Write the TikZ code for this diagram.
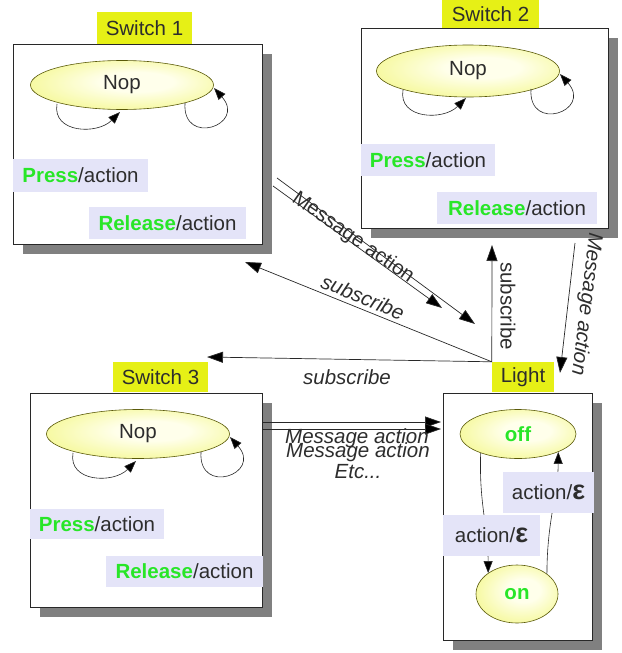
\documentclass[tikz,border=0pt]{standalone}
\usepackage{fontspec}
\setmainfont{Liberation Sans}
\usetikzlibrary{arrows.meta,shapes.geometric,shadows}

\definecolor{labelyel}{RGB}{230,240,22}
\definecolor{lav}{RGB}{228,228,248}
\definecolor{grn}{RGB}{40,230,40}
\definecolor{txt}{RGB}{45,45,45}
\definecolor{shd}{RGB}{128,128,128}
\definecolor{brd}{RGB}{40,40,40}
\definecolor{ebrd}{RGB}{90,90,10}
\definecolor{ylight}{RGB}{255,255,235}
\definecolor{ymid}{RGB}{246,249,160}
\definecolor{ydark}{RGB}{218,230,0}

\pgfdeclareradialshading{nopshade}{\pgfpoint{5bp}{4bp}}{color(0bp)=(ylight); color(10bp)=(ylight); color(28bp)=(ymid); color(47bp)=(ydark); color(50bp)=(ydark)}

\begin{document}
\begin{tikzpicture}[x=1pt,y=-1pt,
  font=\fontsize{20.5}{24}\selectfont,
  swbox/.style={draw=brd, line width=0.8pt, fill=white,
    drop shadow={shadow xshift=10pt, shadow yshift=-10pt, fill=shd, opacity=1}, inner sep=0},
  title/.style={fill=labelyel, text=txt, inner sep=0, minimum height=32},
  lbl/.style={fill=lav, text=txt, inner sep=0, minimum height=32},
  nop/.style={ellipse, draw=ebrd, line width=0.6pt, shading=nopshade, inner sep=0, text=txt},
  conn/.style={draw=brd, line width=0.7pt, -{Triangle[length=16pt,width=11pt,fill=black]}},
  lp/.style={draw=brd, line width=0.6pt, -{Triangle[length=12pt,width=9pt,fill=black]}},
  msg/.style={text=txt, inner sep=0},
  msgi/.style={text=txt, inner sep=0, font=\fontsize{20.5}{24}\selectfont\itshape}
]
\useasboundingbox (0,0) rectangle (621,653);

% boxes
\node[swbox, minimum width=249, minimum height=200] (b1) at (137.5,144) {};
\node[swbox, minimum width=247, minimum height=200] (b2) at (484.5,128) {};
\node[swbox, minimum width=232, minimum height=214] (b3) at (146,500) {};
\node[swbox, minimum width=149, minimum height=247] (bl) at (517.5,516.5) {};

% titles
\node[title, minimum width=95] (t1) at (144.5,28) {Switch 1};
\node[title, minimum width=97, minimum height=28] (t2) at (490.5,14) {Switch 2};
\node[title, minimum width=95, minimum height=30] (t3) at (160.5,377) {Switch 3};
\node[title, minimum width=62, minimum height=30] (tl) at (523,377) {Light};

% Nop states
\node[nop, minimum width=183, minimum height=49] (n1) at (122,85) {Nop};
\node[nop, minimum width=183, minimum height=52] (n2) at (468,71) {Nop};
\node[nop, minimum width=183, minimum height=49] (n3) at (138,434) {Nop};
\foreach \n in {n1,n2,n3}{
  \begin{scope}[shift={(\n.center)}]
    \draw[lp] (-65,19) .. controls (-70,48) and (-25,50) .. (-2,27);
    \draw[lp] (63,18) .. controls (60,62) and (125,40) .. (92,3);
  \end{scope}
}

% Press / Release labels
\node[lbl, minimum width=135, minimum height=33] (p1) at (80.5,175.5) {\textcolor{grn}{\textbf{Press}}/action};
\node[lbl, minimum width=157, minimum height=32] (r1) at (167.5,223) {\textcolor{grn}{\textbf{Release}}/action};
\node[lbl, minimum width=134, minimum height=32] (p2) at (428,160) {\textcolor{grn}{\textbf{Press}}/action};
\node[lbl, minimum width=160, minimum height=32] (r2) at (517,208) {\textcolor{grn}{\textbf{Release}}/action};
\node[lbl, minimum width=134, minimum height=30] (p3) at (97,524) {\textcolor{grn}{\textbf{Press}}/action};
\node[lbl, minimum width=157, minimum height=31] (r3) at (184.5,571.5) {\textcolor{grn}{\textbf{Release}}/action};

% Light states
\node[nop, minimum width=116, minimum height=49] (off) at (518,434) {\textcolor{grn}{\textbf{off}}};
\node[nop, minimum width=82, minimum height=58] (on) at (517,594) {\textcolor{grn}{\textbf{on}}};
\draw[lp] (off.207) .. controls (479,505) and (488,525) .. (on.144);
\draw[lp] (on.34) .. controls (547,520) and (558,495) .. (off.-24);
\node[lbl, minimum width=91, minimum height=41] (a1) at (548.5,492.5) {action/\textbf{\fontsize{27}{27}\selectfont ε}};
\node[lbl, minimum width=97, minimum height=41] (a2) at (491.5,535.5) {action/\textbf{\fontsize{27}{27}\selectfont ε}};

% Message action Switch 1 -> Light
\coordinate (ma1s) at (273,186);
\coordinate (ma1e) at (442,308);
\coordinate (mb1s) at (277,178);
\coordinate (mb1e) at (475,324);
\draw[conn] (ma1s) -- (ma1e);
\draw[conn] (mb1s) -- (mb1e);
\node[msg, rotate=-35] (mt1) at (353,238) {Message action};

% subscribe from Light
\coordinate (s1e) at (245,262);
\coordinate (s2e) at (492,245);
\coordinate (s3e) at (207,357);
\draw[conn] (tl.north west) -- (s1e);
\draw[conn] (tl.north west) -- (s2e);
\draw[conn] (tl.north west) -- (s3e);
\node[msgi, rotate=-22.4] (st1) at (363,297) {subscribe};
\node[msg, rotate=-90] (st2) at (508,306) {subscribe};
\node[msgi] (st3) at (347,377) {subscribe};

% Message action Switch 2 -> Light
\coordinate (m2s) at (575,243);
\coordinate (m2e) at (560,373);
\draw[conn] (m2s) -- (m2e);
\node[msgi, rotate=-97] (mt2) at (586,304) {Message action};

% Message action Switch 3 -> Light
\coordinate (m3as) at (262,422);
\coordinate (m3ae) at (441,422);
\coordinate (m3bs) at (262,429);
\coordinate (m3be) at (441,429);
\draw[conn] (m3as) -- (m3ae);
\draw[conn] (m3bs) -- (m3be);
\node[msgi] (mt3a) at (357,438) {Message action};
\node[msgi] (mt3b) at (358,452) {Message action};
\node[msgi] (mt3c) at (358,472) {Etc...};
\end{tikzpicture}
\end{document}
